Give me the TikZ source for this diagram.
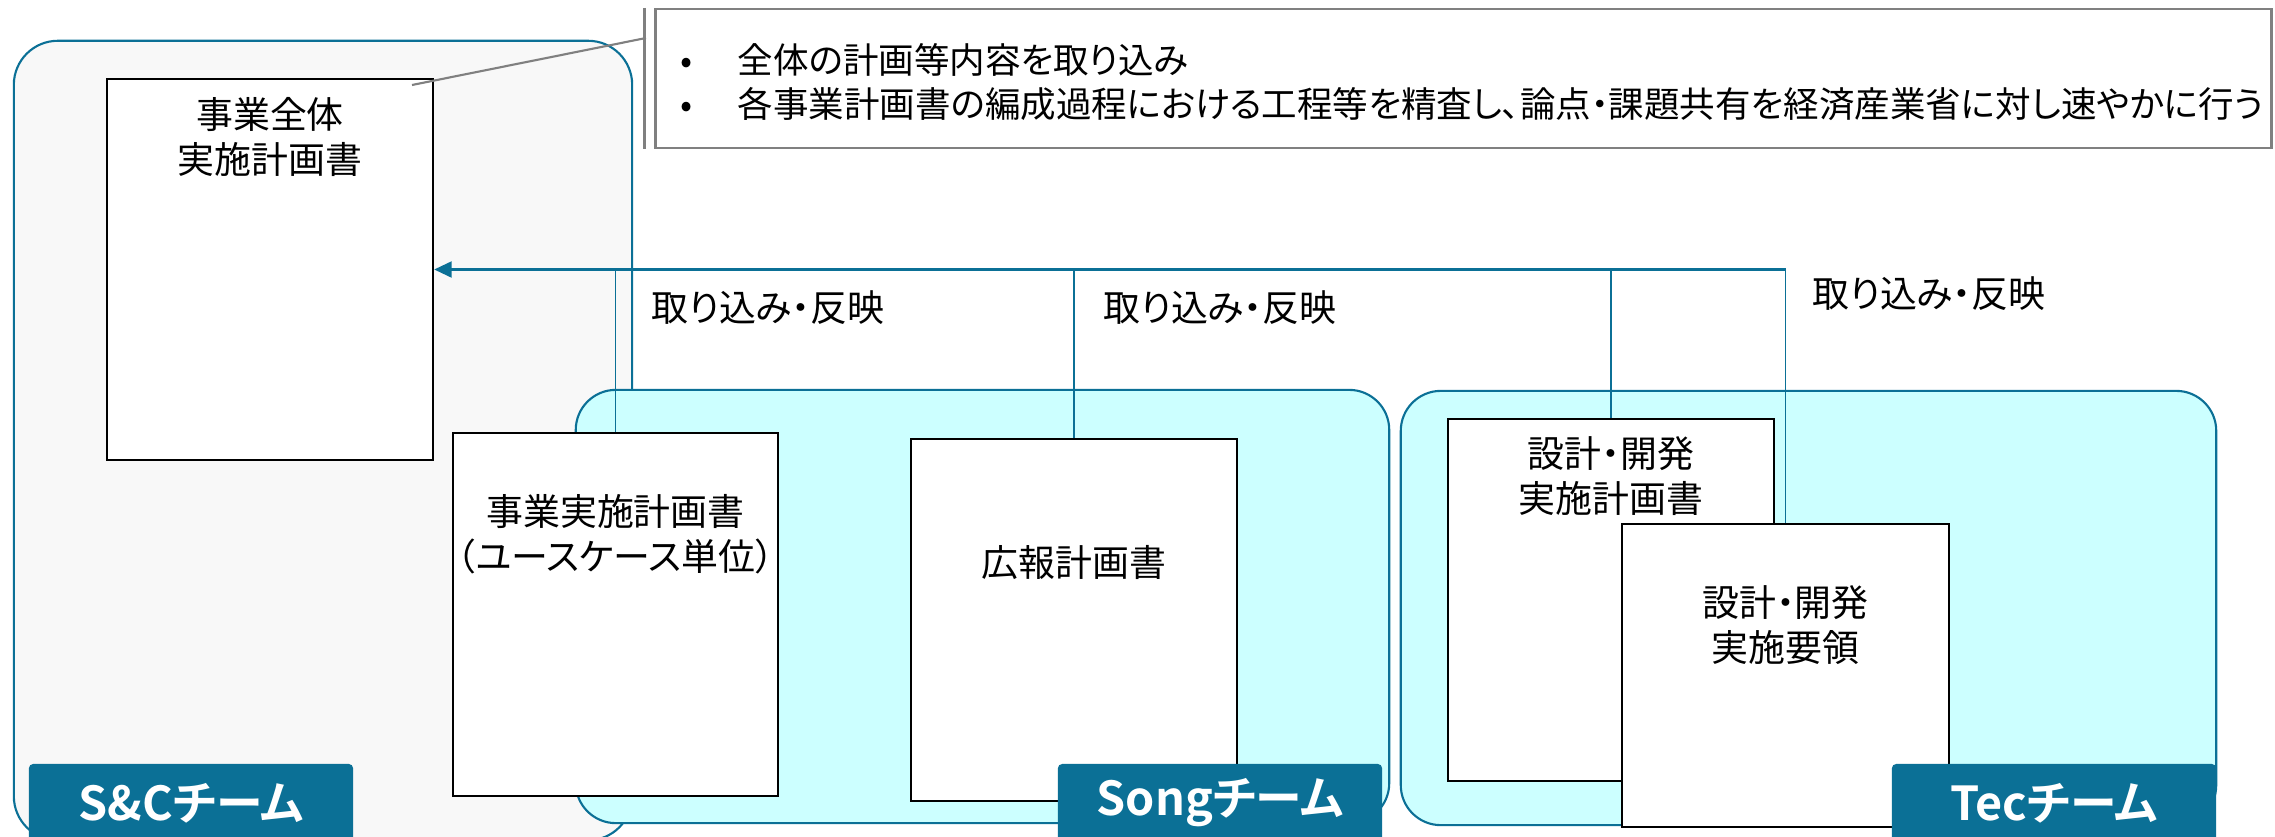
\documentclass[tikz,border=0pt]{standalone}
\usepackage{fontspec}
\setmainfont{Noto Sans CJK JP}[RawFeature=+palt, BoldFont={Noto Sans CJK JP Bold}]
\usetikzlibrary{arrows.meta}
\definecolor{teamblue}{HTML}{0B7096}
\definecolor{teamfill}{HTML}{CCFFFF}
\definecolor{scfill}{HTML}{F8F8F8}
\definecolor{notegray}{HTML}{808080}
\begin{document}
\begin{tikzpicture}[
    x=0.01cm, y=-0.01cm,
    team/.style={rectangle, draw=teamblue, line width=0.6pt, rounded corners=0.4cm},
    doc/.style={rectangle, draw=black, line width=0.6pt, fill=white, inner sep=0pt},
    doctext/.style={align=center, inner sep=0pt, font=\fontsize{10.5pt}{12.8pt}\selectfont},
    tag/.style={rectangle, fill=teamblue, text=white, rounded corners=1.2pt, minimum width=3.24cm, minimum height=0.78cm, font=\fontsize{13.3pt}{14pt}\selectfont\bfseries},
    link/.style={draw=teamblue, line width=0.3pt},
    feed/.style={draw=teamblue, line width=0.8pt, -{Triangle[length=5pt, width=4.5pt]}},
    callout/.style={draw=notegray, line width=0.6pt}
]
\useasboundingbox (0,0) rectangle (2275,836);

\node[team, fill=scfill, minimum width=6.18cm, minimum height=7.99cm, rounded corners=0.44cm] (sc) at (323,440.5) {};
\node[team, fill=teamfill, minimum width=8.13cm, minimum height=4.33cm] (song) at (982.5,606.5) {};
\node[team, fill=teamfill, minimum width=8.15cm, minimum height=4.34cm] (tec) at (1808.5,608) {};

\node[doc, minimum width=3.26cm, minimum height=3.81cm] (main) at (270,269.5) {};
\node[doc, minimum width=3.25cm, minimum height=3.63cm] (usecase) at (615.5,614.5) {};
\node[doc, minimum width=3.26cm, minimum height=3.62cm] (pr) at (1074,620) {};
\node[doc, minimum width=3.26cm, minimum height=3.62cm] (devplan) at (1611,600) {};
\node[doc, minimum width=3.27cm, minimum height=3.03cm] (guide) at (1785.5,675.5) {};

\node[doctext] (mainlbl) at (270,136.5) {事業全体\\実施計画書};
\node[doctext] (usecaselbl) at (615.5,534.5) {事業実施計画書\\（ユースケース単位）};
\node[doctext] (prlbl) at (1074,562) {広報計画書};
\node[doctext] (devplanlbl) at (1611,476) {設計・開発\\実施計画書};
\node[doctext] (guidelbl) at (1785.5,625.5) {設計・開発\\実施要領};

\coordinate (corner) at (guide.north |- main.east);
\draw[link] (guide.north) -- (corner);
\draw[link] (devplan.north) -- (devplan.north |- main.east);
\draw[link] (pr.north) -- (pr.north |- main.east);
\draw[link] (usecase.north) -- (usecase.north |- main.east);
\draw[feed] (corner) -- (main.east);

\node[doctext] (take1) at (768,308) {取り込み・反映};
\node[doctext] (take2) at (1220,308) {取り込み・反映};
\node[doctext] (take3) at (1929,294) {取り込み・反映};

\node[tag] (sctag) at (191,803) {S\&Cチーム};
\node[tag] (songtag) at (1220,803) {Songチーム};
\node[tag] (tectag) at (2054,803) {Tecチーム};

\node[callout, fill=white, minimum width=16.15cm, minimum height=1.39cm] (note) at (1463.5,78.5) {};
\node[anchor=west, align=left, inner sep=0pt, font=\fontsize{10.1pt}{12.4pt}\selectfont] (notetxt) at (680,82)
    {\makebox[0.57cm][l]{•}全体の計画等内容を取り込み\\
     \makebox[0.57cm][l]{•}各事業計画書の編成過程における工程等を精査し、論点・課題共有を経済産業省に対し速やかに行う};
\coordinate (tip) at (412,85);
\coordinate (brk) at (646,38);
\draw[callout] ([xshift=-0.1cm]note.north west) -- ([xshift=-0.1cm]note.south west);
\draw[callout] (tip) -- (brk);
\end{tikzpicture}
\end{document}
